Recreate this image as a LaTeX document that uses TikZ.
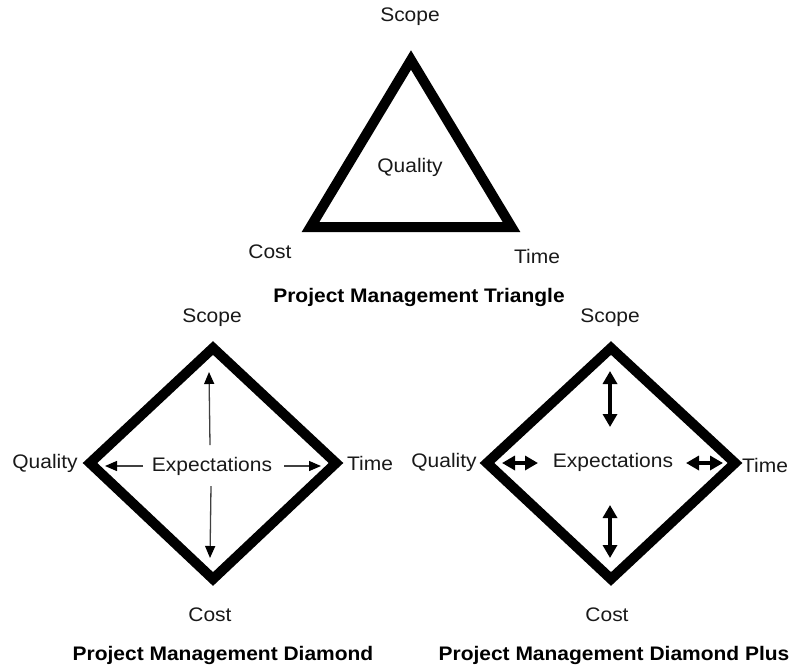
\documentclass[tikz,border=0pt]{standalone}
\usepackage{fontspec}
\setmainfont{Liberation Sans}[FakeStretch=1.07]
\usetikzlibrary{arrows.meta}
\begin{document}
\begin{tikzpicture}[x=1pt,y=-1pt,
  lbl/.style={font=\fontsize{19.6}{24}\selectfont, inner sep=0pt, text=black!90},
  ttl/.style={font=\fontsize{19.6}{24}\selectfont\bfseries, inner sep=0pt},
  frame/.style={line width=10pt, line join=miter, draw=black},
  thinarrow/.style={line width=1.3pt, draw=black!75, -{Triangle[length=12pt,width=10pt,color=black]}},
  thickarrow/.style={line width=4.5pt, draw=black, {Triangle[length=13pt,width=14pt]}-{Triangle[length=13pt,width=14pt]}}
]
\useasboundingbox (0,0) rectangle (794,667);
% Triangle
\coordinate (tA) at (411,60);
\coordinate (tL) at (310.5,227);
\coordinate (tR) at (511.5,227);
\draw[frame] (tA) -- (tL) -- (tR) -- cycle;
\node[lbl] (tscope) at (410,17) {Scope};
\node[lbl] (tqual) at (410,167) {Quality};
\node[lbl] (tcost) at (270,252) {Cost};
\node[lbl] (ttime) at (537,256) {Time};
\node[ttl] (ttitle) at (419,297) {Project Management Triangle};
% Left diamond
\coordinate (lT) at (213,348);
\coordinate (lL) at (90,463);
\coordinate (lR) at (336,463);
\coordinate (lB) at (213,579);
\draw[frame] (lT) -- (lR) -- (lB) -- (lL) -- cycle;
\node[lbl] (lscope) at (212,318) {Scope};
\node[lbl] (lqual) at (45,463) {Quality};
\node[lbl] (ltime) at (370,463) {Time};
\node[lbl] (lcost) at (210,615) {Cost};
\node[lbl] (lexp) at (212,466) {Expectations};
\node[ttl] (ltitle) at (223,655) {Project Management Diamond};
\coordinate (la1) at (210,445); \coordinate (la2) at (209,372);
\coordinate (lb1) at (211,486); \coordinate (lb2) at (210,558);
\coordinate (lc1) at (143,466); \coordinate (lc2) at (105,466);
\coordinate (ld1) at (284,466); \coordinate (ld2) at (321,466);
\draw[thinarrow] (la1) -- (la2);
\draw[thinarrow] (lb1) -- (lb2);
\draw[thinarrow] (lc1) -- (lc2);
\draw[thinarrow] (ld1) -- (ld2);
% Right diamond
\coordinate (rT) at (611,348);
\coordinate (rL) at (487,463);
\coordinate (rR) at (735,463);
\coordinate (rB) at (611,579);
\draw[frame] (rT) -- (rR) -- (rB) -- (rL) -- cycle;
\node[lbl] (rscope) at (610,318) {Scope};
\node[lbl] (rqual) at (444,462) {Quality};
\node[lbl] (rtime) at (765,465) {Time};
\node[lbl] (rcost) at (607,615) {Cost};
\node[lbl] (rexp) at (613,462) {Expectations};
\node[ttl] (rtitle) at (614,655) {Project Management Diamond Plus};
\coordinate (ra1) at (610,371); \coordinate (ra2) at (610,427);
\coordinate (rb1) at (610,505); \coordinate (rb2) at (610,558);
\coordinate (rc1) at (502,463); \coordinate (rc2) at (538,463);
\coordinate (rd1) at (686,463); \coordinate (rd2) at (723,463);
\draw[thickarrow] (ra1) -- (ra2);
\draw[thickarrow] (rb1) -- (rb2);
\draw[thickarrow] (rc1) -- (rc2);
\draw[thickarrow] (rd1) -- (rd2);
\end{tikzpicture}
\end{document}
